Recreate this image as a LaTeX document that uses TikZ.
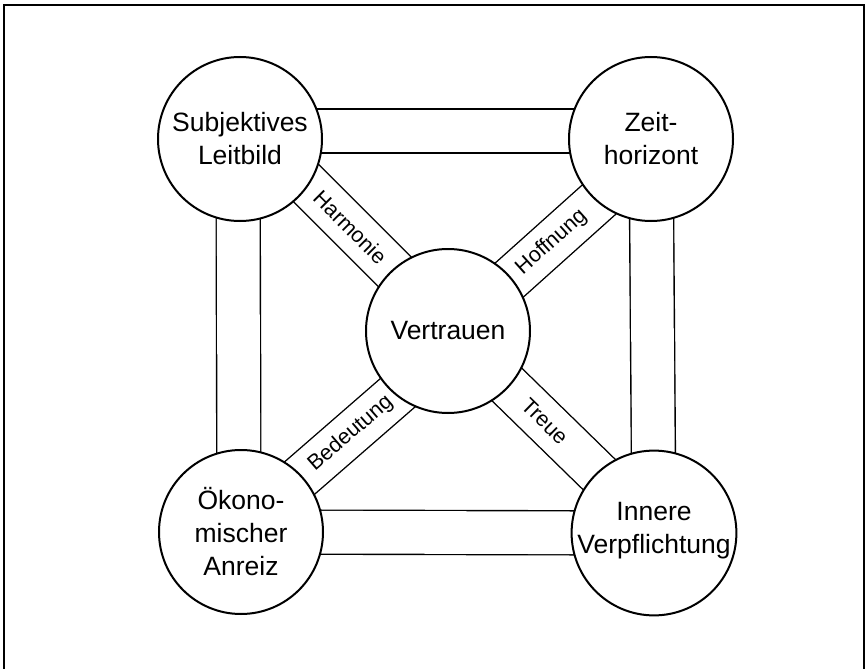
\documentclass[tikz,border=0pt]{standalone}
\usepackage{fontspec}
\setmainfont{Liberation Sans}
\usetikzlibrary{backgrounds}
\begin{document}
\begin{tikzpicture}[x=1pt, y=-1pt,
  kreis/.style={circle, draw, line width=2pt, fill=white, minimum size=164pt, inner sep=0pt, align=center, font=\fontsize{26.5}{33}\selectfont},
  balken/.style={line width=1.4pt, double=white, double distance=42.6pt},
  wort/.style={sloped, font=\fontsize{21.5}{24}\selectfont}]
\useasboundingbox (0,0) rectangle (865,669);
\draw[line width=1.2pt] (4,669)--(4,5)--(864,5)--(864,669);

\node[kreis] (leit) at (240,139) {Subjektives\\Leitbild};
\node[kreis] (zeit) at (651,139) {Zeit-\\horizont};
\node[kreis] (anreiz) at (241,532) {Ökono-\\mischer\\Anreiz};
\node[kreis] (pflicht) at (654,533) {Innere\\Verpflichtung\\[-22pt]};
\node[kreis] (vertr) at (448,331) {Vertrauen};

\begin{scope}[on background layer]
\draw[balken] ([yshift=8pt]leit.center)--([yshift=8pt]zeit.center);
\draw[balken] (anreiz.center)--(pflicht.center);
\draw[balken] ([xshift=-2pt]leit.center)--([xshift=-2pt]anreiz.center);
\draw[balken] (zeit.center)--(pflicht.center);
\draw[balken] ([shift={(0,-22)}]leit.center)--node[wort, pos=.53]{Harmonie}([shift={(0,-6)}]vertr.center);
\draw[balken] ([shift={(0,14)}]zeit.center)--node[wort, pos=.49]{Hoffnung}([shift={(0,4)}]vertr.center);
\draw[balken] ([shift={(0,-3)}]anreiz.center)--node[wort, pos=.53]{Bedeutung}([shift={(0,18)}]vertr.center);
\draw[balken] ([shift={(0,-5)}]pflicht.center)--node[wort, pos=.53]{Treue}([shift={(0,-4)}]vertr.center);
\end{scope}
\end{tikzpicture}
\end{document}
